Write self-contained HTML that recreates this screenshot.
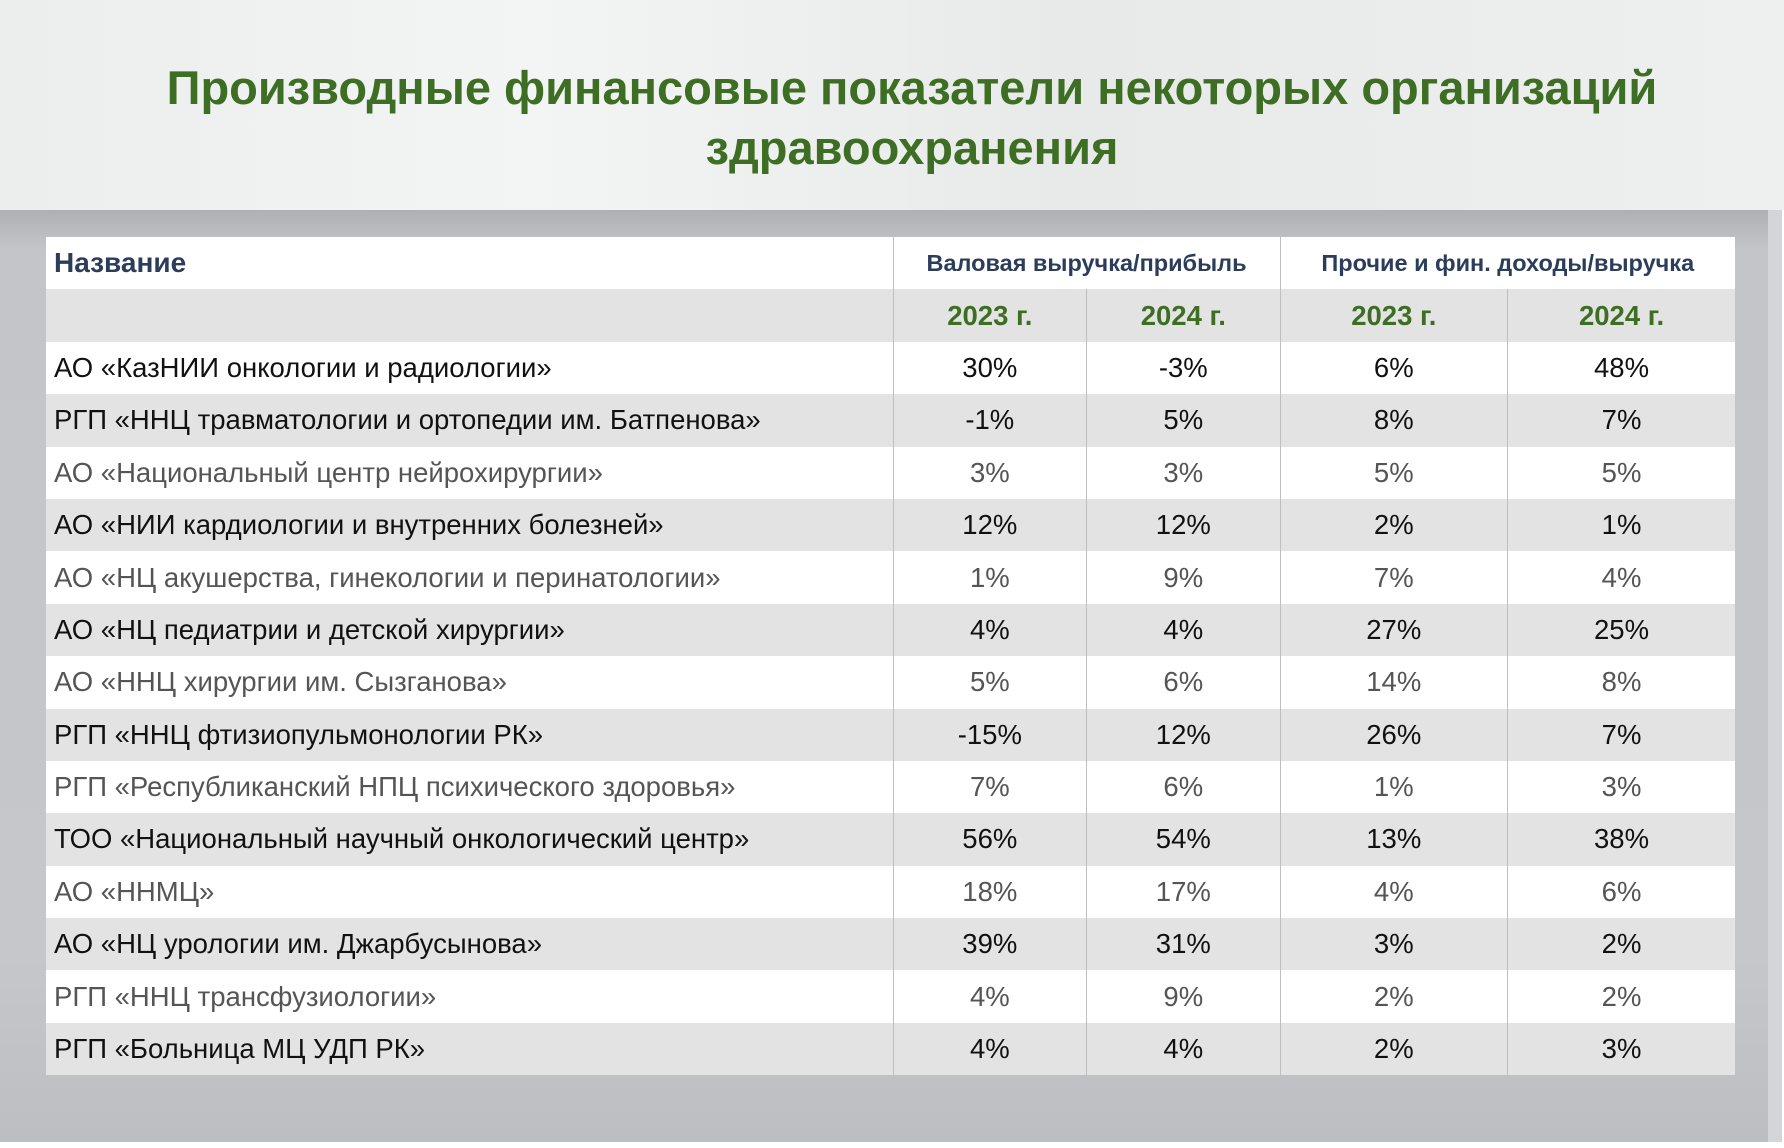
<!DOCTYPE html>
<html><head><meta charset="utf-8"><style>
*{margin:0;padding:0;box-sizing:border-box}
body{width:1784px;height:1148px;overflow:hidden;background:#fff;font-family:"Liberation Sans",sans-serif;position:relative}
#top{position:absolute;left:0;top:0;width:1784px;height:210px;background:linear-gradient(90deg,#eceeee,#f3f4f4 30%,#e8eaea 60%,#eef0f0)}
#bg{position:absolute;left:0;top:210px;width:1782px;height:932px;background:linear-gradient(180deg,#aeb0b4 0,#c3c5c9 40px,#c5c7cb 80%,#bcbec2)}
#rs{position:absolute;left:1768px;top:210px;width:14px;height:932px;background:#d4d5d8}
h1{position:absolute;left:20px;top:58px;width:1784px;text-align:center;color:#3d6e23;font-size:47px;line-height:60px;font-weight:bold}
table{position:absolute;left:46px;top:237px;border-collapse:collapse;table-layout:fixed;width:1689px}
td{height:52.4px;font-size:27.5px;text-align:center;padding:0;white-space:nowrap;overflow:hidden}
td.n{text-align:left;padding-left:8px}
tr.w td{background:#fff;color:#555}
tr.g td{background:#e3e3e3;color:#111}
tr.d td{color:#111}
.bl{border-left:1.5px solid #bdbfc3}
.h1 td{background:#fff;color:#2b3d5a;font-weight:bold;font-size:23.5px}
.h1 td.n{font-size:28px}
.h2 td{background:#e3e3e3;color:#3d6e23;font-weight:bold;font-size:27.5px}
</style></head><body>
<div id="top"></div><div id="bg"></div><div id="rs"></div>
<h1>Производные финансовые показатели некоторых организаций<br>здравоохранения</h1>
<table>
<colgroup><col style="width:847px"><col style="width:193.6px"><col style="width:193.4px"><col style="width:227.6px"><col style="width:227.4px"></colgroup>
<tr class="h1"><td class="n">Название</td><td colspan="2" class="bl">Валовая выручка/прибыль</td><td colspan="2" class="bl">Прочие и фин. доходы/выручка</td></tr>
<tr class="h2"><td class="n"></td><td class="bl">2023 г.</td><td class="bl">2024 г.</td><td class="bl">2023 г.</td><td class="bl">2024 г.</td></tr>
<tr class="w d"><td class="n">АО «КазНИИ онкологии и радиологии»</td><td class="bl">30%</td><td class="bl">-3%</td><td class="bl">6%</td><td class="bl">48%</td></tr>
<tr class="g"><td class="n">РГП «ННЦ травматологии и ортопедии им. Батпенова»</td><td class="bl">-1%</td><td class="bl">5%</td><td class="bl">8%</td><td class="bl">7%</td></tr>
<tr class="w"><td class="n">АО «Национальный центр нейрохирургии»</td><td class="bl">3%</td><td class="bl">3%</td><td class="bl">5%</td><td class="bl">5%</td></tr>
<tr class="g"><td class="n">АО «НИИ кардиологии и внутренних болезней»</td><td class="bl">12%</td><td class="bl">12%</td><td class="bl">2%</td><td class="bl">1%</td></tr>
<tr class="w"><td class="n">АО «НЦ акушерства, гинекологии и перинатологии»</td><td class="bl">1%</td><td class="bl">9%</td><td class="bl">7%</td><td class="bl">4%</td></tr>
<tr class="g"><td class="n">АО «НЦ педиатрии и детской хирургии»</td><td class="bl">4%</td><td class="bl">4%</td><td class="bl">27%</td><td class="bl">25%</td></tr>
<tr class="w"><td class="n">АО «ННЦ хирургии им. Сызганова»</td><td class="bl">5%</td><td class="bl">6%</td><td class="bl">14%</td><td class="bl">8%</td></tr>
<tr class="g"><td class="n">РГП «ННЦ фтизиопульмонологии РК»</td><td class="bl">-15%</td><td class="bl">12%</td><td class="bl">26%</td><td class="bl">7%</td></tr>
<tr class="w"><td class="n">РГП «Республиканский НПЦ психического здоровья»</td><td class="bl">7%</td><td class="bl">6%</td><td class="bl">1%</td><td class="bl">3%</td></tr>
<tr class="g"><td class="n">ТОО «Национальный научный онкологический центр»</td><td class="bl">56%</td><td class="bl">54%</td><td class="bl">13%</td><td class="bl">38%</td></tr>
<tr class="w"><td class="n">АО «ННМЦ»</td><td class="bl">18%</td><td class="bl">17%</td><td class="bl">4%</td><td class="bl">6%</td></tr>
<tr class="g"><td class="n">АО «НЦ урологии им. Джарбусынова»</td><td class="bl">39%</td><td class="bl">31%</td><td class="bl">3%</td><td class="bl">2%</td></tr>
<tr class="w"><td class="n">РГП «ННЦ трансфузиологии»</td><td class="bl">4%</td><td class="bl">9%</td><td class="bl">2%</td><td class="bl">2%</td></tr>
<tr class="g"><td class="n">РГП «Больница МЦ УДП РК»</td><td class="bl">4%</td><td class="bl">4%</td><td class="bl">2%</td><td class="bl">3%</td></tr>
</table>
</body></html>
